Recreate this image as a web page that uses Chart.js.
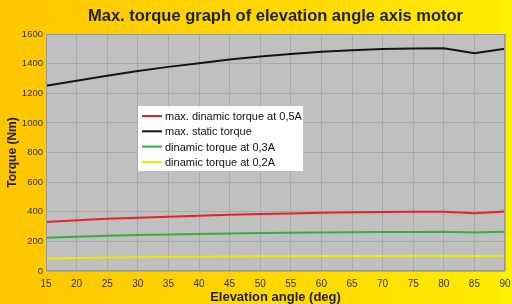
<!DOCTYPE html>
<html>
<head>
<meta charset="utf-8">
<script src="https://cdn.jsdelivr.net/npm/chart.js@4/dist/chart.umd.min.js"></script>
<style>
	html, body { margin: 0; padding: 0; background: #FFD000; }
	#wrap { width: 512px; height: 304px; position: relative; }
</style>
</head>
<body>
<div id="wrap"><canvas id="chart" width="512" height="304"></canvas></div>
<script>
var angles = [15, 20, 25, 30, 35, 40, 45, 50, 55, 60, 65, 70, 75, 80, 85, 90];
var redValues = [330, 342, 352, 360, 367, 373, 380, 385, 389, 393, 396, 398, 400, 400, 390, 402];
var blackValues = [1250, 1285, 1318, 1350, 1378, 1403, 1428, 1448, 1465, 1480, 1490, 1498, 1502, 1503, 1470, 1500];
var greenValues = [225, 232, 238, 243, 247, 250, 253, 256, 258, 260, 262, 263, 264, 265, 260, 265];
var yellowValues = [85, 88, 91, 93, 95, 97, 98, 99, 100, 101, 102, 102, 103, 103, 102, 103];
var seriesNames = ['max. dinamic torque at 0,5A', 'max. static torque', 'dinamic torque at 0,3A', 'dinamic torque at 0,2A'];
var chartTitle = 'Max. torque graph of elevation angle axis motor';

var FONT = '"Liberation Sans", Arial, sans-serif';

function toPoints(values) {
	var pts = [];
	for (var i = 0; i < angles.length; i++)
		pts.push({x: angles[i], y: values[i]});
	return pts;
}

function makeSet(name, values, color) {
	return {
		label: name,
		data: toPoints(values),
		borderColor: color,
		backgroundColor: color,
		borderWidth: 2,
		pointRadius: 0,
		tension: 0
	};
}

function plainLabel(value) {
	return String(value);
}

var decorPlugin = {
	id: 'decor',
	beforeDraw: function(chart) {
		var ctx = chart.ctx;
		var a = chart.chartArea;
		var g = ctx.createLinearGradient(0, 0, chart.width, 0);
		g.addColorStop(0, '#FFC600');
		g.addColorStop(0.6, '#FFDA00');
		g.addColorStop(0.97, '#FFEC00');
		g.addColorStop(1, '#FFF400');
		ctx.save();
		ctx.fillStyle = g;
		ctx.fillRect(0, 0, chart.width, chart.height);
		ctx.fillStyle = '#C0C0C0';
		ctx.fillRect(a.left, a.top, a.right - a.left, a.bottom - a.top);
		ctx.restore();
	},
	afterDraw: function(chart) {
		var ctx = chart.ctx;
		var a = chart.chartArea;
		ctx.save();
		ctx.strokeStyle = '#9A9A9A';
		ctx.lineWidth = 1;
		ctx.strokeRect(a.left + 0.5, a.top + 0.5, a.right - a.left - 1, a.bottom - a.top - 1);

		// title
		ctx.fillStyle = '#222222';
		ctx.font = 'bold 16.5px ' + FONT;
		ctx.textAlign = 'center';
		ctx.textBaseline = 'middle';
		ctx.fillText(chartTitle, (a.left + a.right) / 2, 16);

		// legend box
		var bx = 138, by = 106, bw = 165, bh = 65;
		ctx.fillStyle = '#FFFFFF';
		ctx.fillRect(bx, by, bw, bh);
		ctx.font = '11px ' + FONT;
		ctx.textAlign = 'left';
		var sets = chart.data.datasets;
		for (var i = 0; i < sets.length; i++) {
			var yy = by + 10 + i * 15.3;
			ctx.strokeStyle = sets[i].borderColor;
			ctx.lineWidth = 2;
			ctx.beginPath();
			ctx.moveTo(bx + 4, yy);
			ctx.lineTo(bx + 24, yy);
			ctx.stroke();
			ctx.fillStyle = '#111111';
			ctx.fillText(sets[i].label, bx + 27, yy + 1);
		}
		ctx.restore();
	}
};

new Chart(document.getElementById('chart'), {
	type: 'line',
	data: {
		datasets: [
			makeSet(seriesNames[0], redValues, '#E8222C'),
			makeSet(seriesNames[1], blackValues, '#141414'),
			makeSet(seriesNames[2], greenValues, '#3BAA45'),
			makeSet(seriesNames[3], yellowValues, '#F2E600')
		]
	},
	options: {
		responsive: false,
		animation: false,
		layout: { padding: { top: 34, right: 7, left: 0, bottom: 0 } },
		plugins: {
			legend: { display: false },
			title: { display: false },
			tooltip: { enabled: false }
		},
		scales: {
			x: {
				type: 'linear',
				min: 15,
				max: 90,
				ticks: {
					stepSize: 5,
					color: '#333333',
					font: { family: FONT, size: 10 },
					padding: 7,
					maxRotation: 0,
					callback: plainLabel
				},
				grid: { color: '#AAAAAA', drawTicks: false, lineWidth: 1 },
				border: { display: false },
				title: {
					display: true,
					text: 'Elevation angle (deg)',
					color: '#222222',
					font: { family: FONT, size: 13, weight: 'bold' },
					padding: { top: 0, bottom: -1 }
				},
				afterFit: function(scale) {
					scale.height = 33;
					scale.paddingLeft = 0;
					scale.paddingRight = 0;
				}
			},
			y: {
				min: 0,
				max: 1600,
				ticks: {
					stepSize: 200,
					color: '#333333',
					font: { family: FONT, size: 9.5 },
					padding: 3,
					callback: plainLabel
				},
				grid: { color: '#AAAAAA', drawTicks: false, lineWidth: 1 },
				border: { display: false },
				title: {
					display: true,
					text: 'Torque (Nm)',
					color: '#222222',
					font: { family: FONT, size: 12, weight: 'bold' },
					padding: { top: 5, bottom: 0 }
				},
				afterFit: function(scale) { scale.width = 46; }
			}
		}
	},
	plugins: [decorPlugin]
});
</script>
</body>
</html>
